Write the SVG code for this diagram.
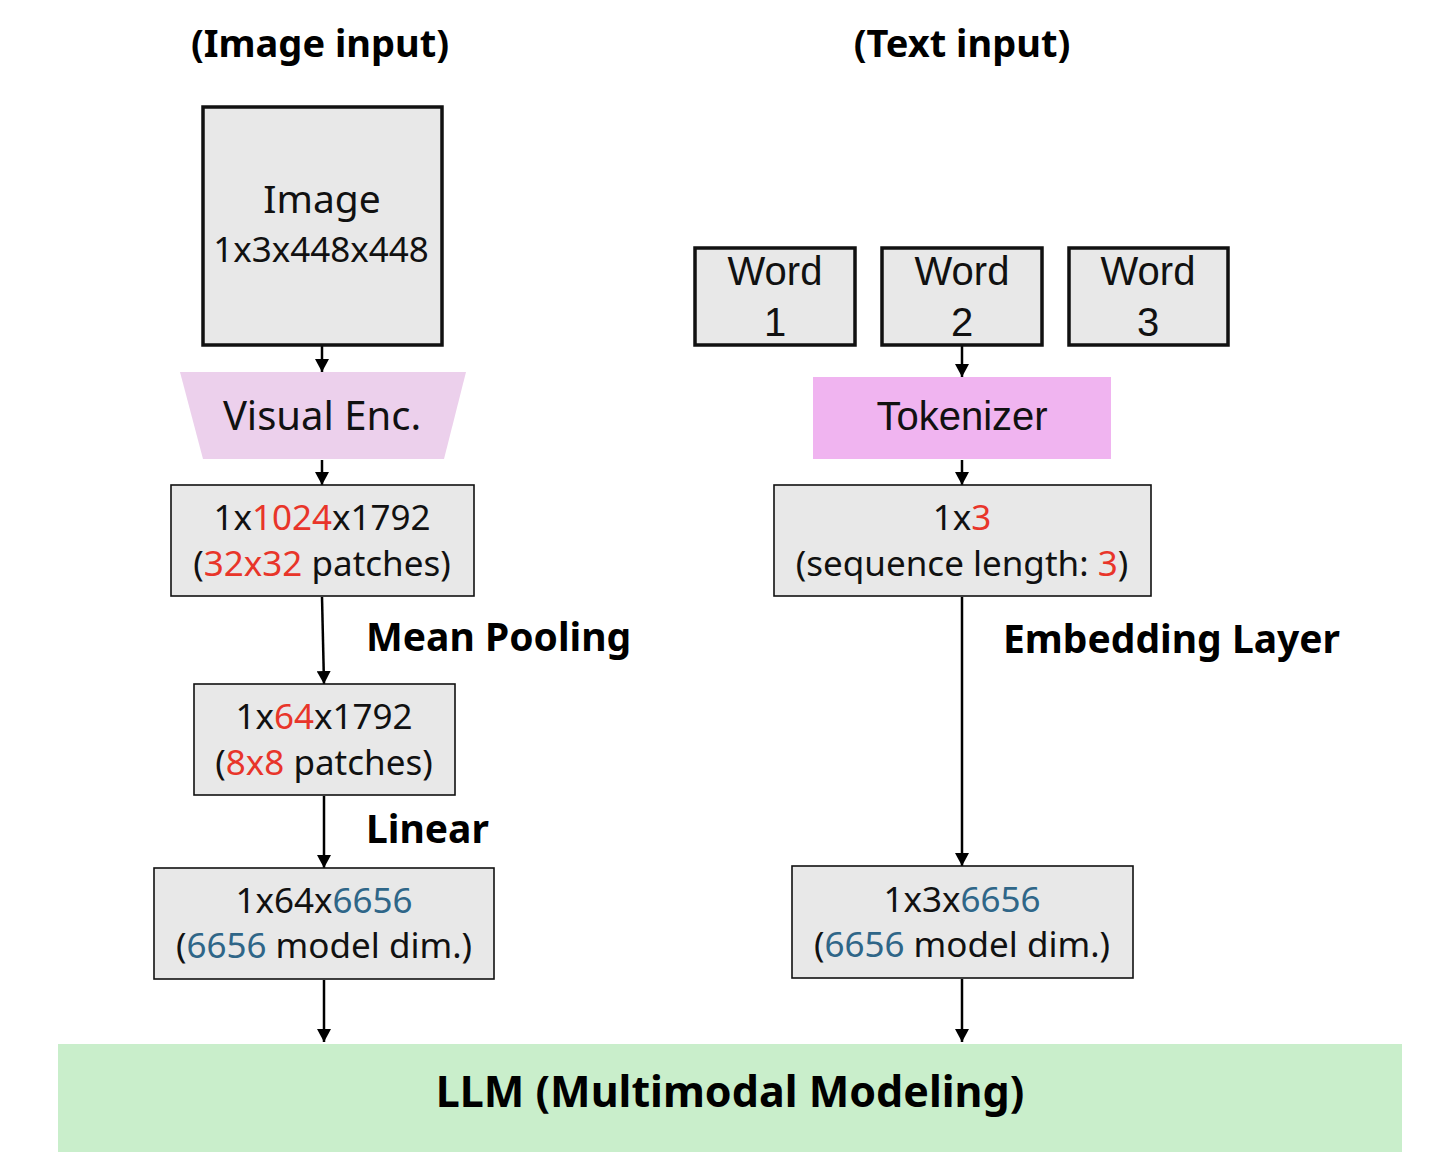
<svg xmlns="http://www.w3.org/2000/svg" width="1436" height="1152" viewBox="0 0 1436 1152">
<style>
.t{font-family:"Noto Sans","Open Sans",sans-serif;fill:#111;text-anchor:middle}
.a{font-family:"Liberation Sans",Arial,sans-serif;fill:#111;text-anchor:middle}
.b{font-family:"Noto Sans","Open Sans",sans-serif;font-weight:bold;fill:#000}
.r{fill:#e8352a}
.u{fill:#2f6688}
.box{fill:#e8e8e8;stroke:#111;stroke-width:1.6}
.thick{fill:#e8e8e8;stroke:#111;stroke-width:3.5}
.c{stroke:#000;stroke-width:2.5;fill:none;marker-end:url(#ah)}
</style>
<defs>
<marker id="ah" markerUnits="userSpaceOnUse" markerWidth="14" markerHeight="14" refX="13" refY="7" orient="auto">
<path d="M0,0 L13,7 L0,14 Z" fill="#000"/>
</marker>
</defs>
<rect width="1436" height="1152" fill="#fff"/>
<text class="b" x="320" y="57" font-size="38" text-anchor="middle">(Image input)</text>
<text class="b" x="962" y="57" font-size="38" text-anchor="middle">(Text input)</text>

<g id="connectors">
<line class="c" x1="322" y1="346" x2="322" y2="372"/>
<line class="c" x1="322" y1="460" x2="322" y2="485"/>
<line class="c" x1="322" y1="597" x2="324" y2="684"/>
<line class="c" x1="324" y1="796" x2="324" y2="868"/>
<line class="c" x1="324" y1="980" x2="324" y2="1042"/>
<line class="c" x1="962" y1="346" x2="962" y2="377"/>
<line class="c" x1="962" y1="460" x2="962" y2="485"/>
<line class="c" x1="962" y1="597" x2="962" y2="866"/>
<line class="c" x1="962" y1="979" x2="962" y2="1042"/>
</g>

<g id="image">
<rect class="thick" x="203" y="107" width="239" height="238"/>
<text class="t" x="322" y="213" font-size="39">Image</text>
<text class="t" x="321" y="262" font-size="35">1x3x448x448</text>
</g>

<g id="visual-enc">
<polygon points="180,372 466,372 444,459 203,459" fill="#ecd0ec"/>
<text class="t" x="322" y="430" font-size="40">Visual Enc.</text>
</g>

<g id="feat1024">
<rect class="box" x="171" y="485" width="303" height="111"/>
<text class="t" x="322" y="530" font-size="35">1x<tspan class="r">1024</tspan>x1792</text>
<text class="t" x="322" y="576" font-size="35">(<tspan class="r">32x32</tspan> patches)</text>
</g>

<text class="b" x="366" y="651" font-size="39">Mean Pooling</text>

<g id="feat64">
<rect class="box" x="194" y="684" width="261" height="111"/>
<text class="t" x="324" y="729" font-size="35">1x<tspan class="r">64</tspan>x1792</text>
<text class="t" x="324" y="775" font-size="35">(<tspan class="r">8x8</tspan> patches)</text>
</g>

<text class="b" x="366" y="843" font-size="39">Linear</text>

<g id="proj-image">
<rect class="box" x="154" y="868" width="340" height="111"/>
<text class="t" x="324" y="913" font-size="35">1x64x<tspan class="u">6656</tspan></text>
<text class="t" x="324" y="958" font-size="35">(<tspan class="u">6656</tspan> model dim.)</text>
</g>

<g id="word1">
<rect class="thick" x="695" y="248" width="160" height="97" stroke-width="3"/>
<text class="a" x="775" y="285" font-size="40">Word</text>
<text class="a" x="775" y="336" font-size="40">1</text>
</g>
<g id="word2">
<rect class="thick" x="882" y="248" width="160" height="97" stroke-width="3"/>
<text class="a" x="962" y="285" font-size="40">Word</text>
<text class="a" x="962" y="336" font-size="40">2</text>
</g>
<g id="word3">
<rect class="thick" x="1069" y="248" width="159" height="97" stroke-width="3"/>
<text class="a" x="1148" y="285" font-size="40">Word</text>
<text class="a" x="1148" y="336" font-size="40">3</text>
</g>

<g id="tokenizer">
<rect x="813" y="377" width="298" height="82" fill="#f0b4f0"/>
<text class="a" x="962" y="430" font-size="40">Tokenizer</text>
</g>

<g id="tokens">
<rect class="box" x="774" y="485" width="377" height="111"/>
<text class="t" x="962" y="530" font-size="35">1x<tspan class="r">3</tspan></text>
<text class="t" x="962" y="576" font-size="35">(sequence length: <tspan class="r">3</tspan>)</text>
</g>

<text class="b" x="1003" y="653" font-size="39">Embedding Layer</text>

<g id="proj-text">
<rect class="box" x="792" y="866" width="341" height="112"/>
<text class="t" x="962" y="912" font-size="35">1x3x<tspan class="u">6656</tspan></text>
<text class="t" x="962" y="957" font-size="35">(<tspan class="u">6656</tspan> model dim.)</text>
</g>

<g id="llm">
<rect x="58" y="1044" width="1344" height="108" fill="#c9eecb"/>
<text class="b" x="730" y="1107" font-size="43" text-anchor="middle">LLM (Multimodal Modeling)</text>
</g>
</svg>
